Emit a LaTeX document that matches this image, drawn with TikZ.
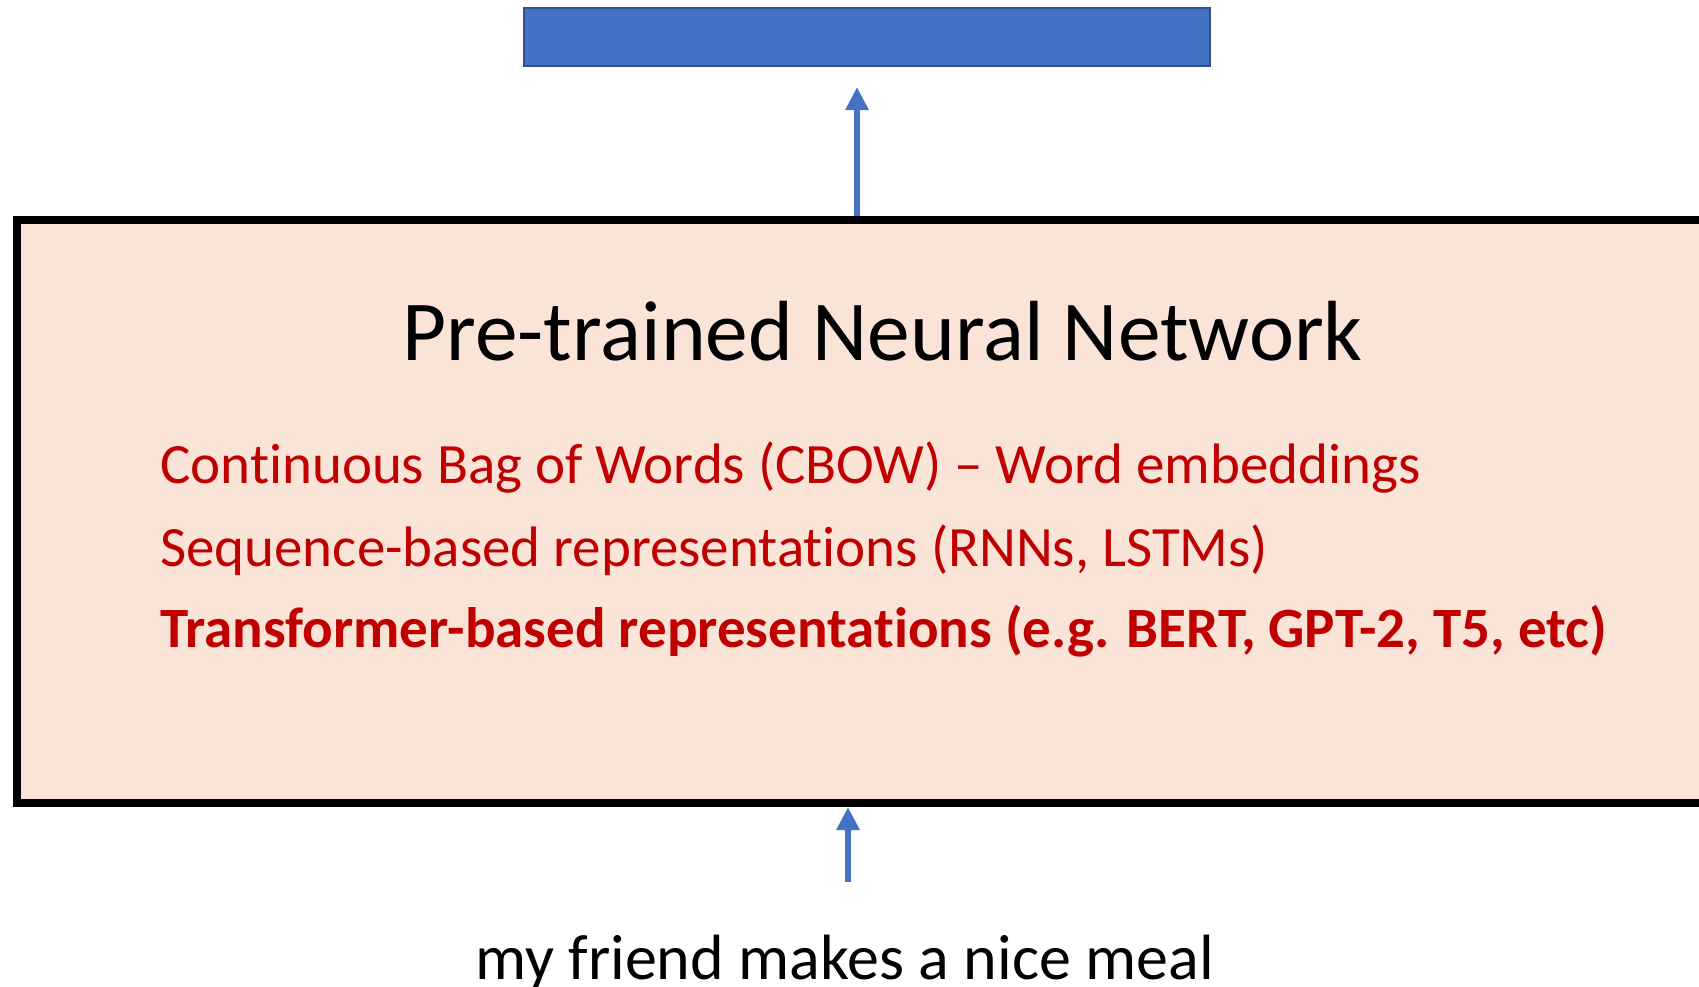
\documentclass[tikz,border=0pt]{standalone}
\usepackage{fontspec}
\setmainfont[Ligatures={NoCommon}]{Carlito}
\usetikzlibrary{arrows.meta}
\definecolor{barblue}{HTML}{4472C4}
\definecolor{baredge}{HTML}{2F528F}
\definecolor{netfill}{HTML}{FAE4D7}
\definecolor{itemred}{HTML}{C00000}
\tikzset{
  outbar/.style={draw=baredge, line width=2pt, fill=barblue, minimum width=686pt, minimum height=58pt, inner sep=0pt},
  netbox/.style={draw=black, line width=8pt, fill=netfill, minimum width=1703pt, minimum height=583pt, inner sep=0pt},
  flow/.style={draw=barblue, line width=6pt, -{Triangle[length=23pt, width=22pt]}},
  item/.style={anchor=base west, inner sep=0pt, text=itemred, font=\fontsize{57pt}{57pt}\selectfont},
}
\begin{document}
\begin{tikzpicture}[x=1pt, y=-1pt]
  \useasboundingbox (0,0) rectangle (1699,986);
  \clip (0,0) rectangle (1699,986);

  % output representation
  \node[outbar] (out) at (867,37) {};

  % the network block (runs past the right edge)
  \node[netbox] (net) at (868.5,511.5) {};

  \node[anchor=base, inner sep=0pt, font=\fontsize{85.4pt}{85.4pt}\selectfont] (title) at (882.5,360) {Pre-trained Neural Network};
  \node[item] (cbow) at (160,483) {Continuous Bag of Words (CBOW) – Word embeddings};
  \node[item] (seq) at (160,566) {Sequence-based representations (RNNs, LSTMs)};
  \node[item, font=\fontsize{57pt}{57pt}\selectfont\bfseries] (trf) at (160,647) {Transformer-based representations (e.g. BERT, GPT-2, T5, etc)};

  % input sentence
  \node[anchor=base, inner sep=0pt, font=\fontsize{64pt}{64pt}\selectfont] (input) at (844.5,979) {my friend makes a nice meal};

  % arrows
  \coordinate (upTip) at (857,87);
  \coordinate (inTail) at (848,882);
  \draw[flow] (net.north -| upTip) -- (upTip);
  \draw[flow] (inTail) -- (net.south -| inTail);
\end{tikzpicture}
\end{document}
